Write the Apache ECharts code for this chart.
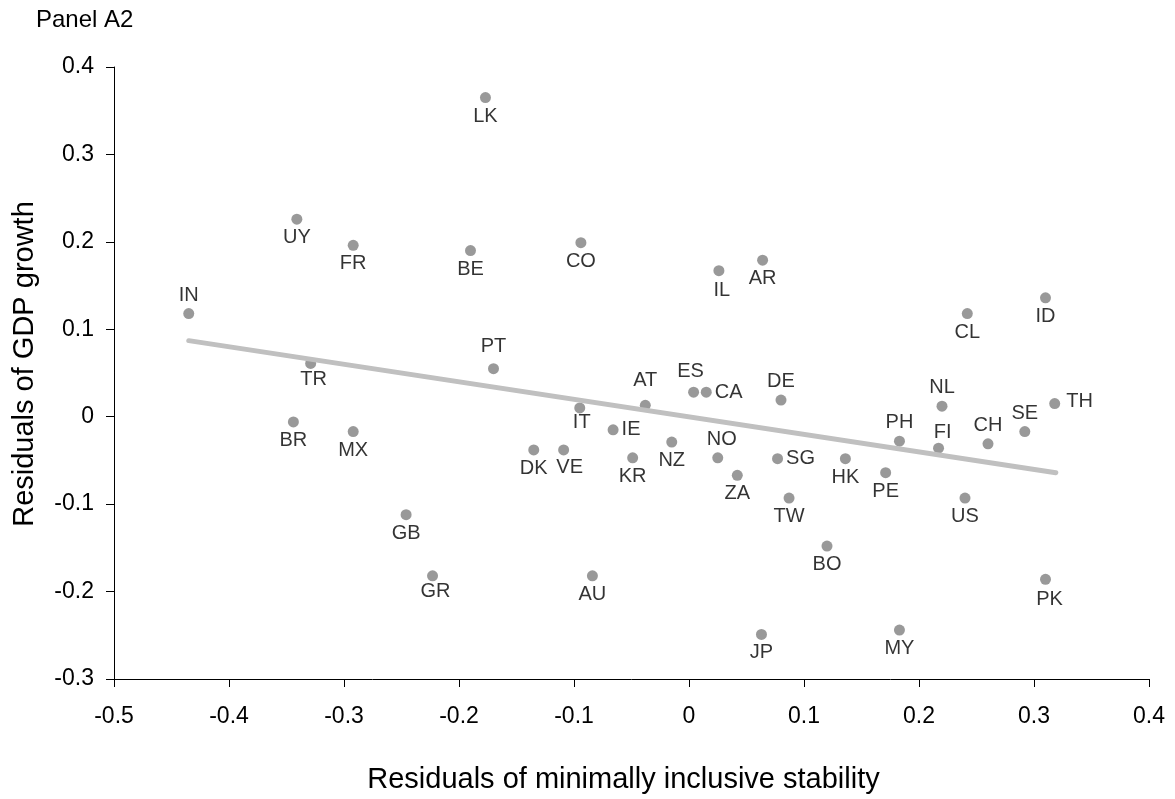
<!DOCTYPE html>
<html>
<head>
<meta charset="utf-8">
<title>Panel A2</title>
<script src="https://cdn.jsdelivr.net/npm/echarts@6/dist/echarts.min.js"></script>
<style>
  html, body { margin: 0; padding: 0; background: #ffffff; }
  #chart { width: 1175px; height: 799px; }
</style>
</head>
<body>
<div id="chart"></div>
<script>
// country codes with their residuals
const codes = ['IN', 'UY', 'FR', 'TR', 'BR', 'MX', 'GB', 'GR', 'BE', 'LK', 'PT', 'DK', 'VE',
  'CO', 'IT', 'AU', 'IE', 'KR', 'AT', 'NZ', 'ES', 'CA', 'IL', 'NO', 'ZA', 'AR', 'JP', 'SG',
  'DE', 'TW', 'BO', 'HK', 'PE', 'PH', 'MY', 'FI', 'NL', 'US', 'CL', 'CH', 'SE', 'ID', 'PK', 'TH']
const stability = [-0.435, -0.341, -0.292, -0.329, -0.344, -0.292, -0.246, -0.223, -0.190, -0.177, -0.170, -0.135, -0.109,
  -0.094, -0.095, -0.084, -0.066, -0.049, -0.038, -0.015, 0.004, 0.015, 0.026, 0.025, 0.042, 0.064, 0.063, 0.077,
  0.080, 0.087, 0.120, 0.136, 0.171, 0.183, 0.183, 0.217, 0.220, 0.240, 0.242, 0.260, 0.292, 0.310, 0.310, 0.318]
const growth = [0.118, 0.226, 0.196, 0.061, -0.006, -0.017, -0.112, -0.182, 0.190, 0.365, 0.055, -0.038, -0.038,
  0.199, 0.010, -0.182, -0.015, -0.047, 0.013, -0.029, 0.028, 0.028, 0.167, -0.047, -0.067, 0.179, -0.249, -0.048,
  0.019, -0.093, -0.148, -0.048, -0.064, -0.028, -0.244, -0.036, 0.012, -0.093, 0.118, -0.031, -0.017, 0.136, -0.186, 0.015]

// fitted line end points
const trendX = [-0.435, 0.319]
const trendY = [0.087, -0.064]

const xTicks = [-0.5, 0.4, 0.1]
const yTicks = [-0.3, 0.4, 0.1]

// where each label sits round its dot (default is below)
const labelPlace = {
  IN: ['top'], PT: ['top', 0, -4], AT: ['top', 0, -6], ES: ['top', -3, -2], DE: ['top'],
  NL: ['top'], PH: ['top'], FI: ['top', 4, 3], CH: ['top'], SE: ['top'], NO: ['top', 4, 0],
  CA: ['right'], IE: ['right'], SG: ['right'], TH: ['right', 3, -2],
  IT: ['bottom', 2, -4], GR: ['bottom', 3, -3], TR: ['bottom', 3, -2], VE: ['bottom', 6, -1],
  PK: ['bottom', 4, 2], IL: ['bottom', 3, 1]
}

const fontFam = "'Liberation Sans', Arial, sans-serif"

let points = []
for (let i = 0; i < codes.length; i++) {
  let place = labelPlace[codes[i]] || ['bottom']
  points.push({
    name: codes[i],
    value: [stability[i], growth[i]],
    label: {
      position: place[0],
      offset: [place[1] || 0, place[2] || 0]
    }
  })
}

let chart = echarts.init(document.getElementById('chart'))
chart.setOption({
  animation: false,
  backgroundColor: '#ffffff',
  textStyle: { fontFamily: fontFam },
  title: {
    text: 'Panel A2',
    left: 36,
    top: 8,
    padding: 0,
    textStyle: { fontSize: 24, fontWeight: 'normal', color: '#000', fontFamily: fontFam }
  },
  grid: { left: 114, right: 26, top: 67, bottom: 119 },
  xAxis: {
    type: 'value',
    min: xTicks[0],
    max: xTicks[1],
    interval: xTicks[2],
    name: 'Residuals of minimally inclusive stability',
    nameLocation: 'middle',
    nameGap: 86,
    nameTextStyle: { fontSize: 29, color: '#000', fontFamily: fontFam, padding: [0, 16, 0, 0] },
    axisLine: { show: true, onZero: false, lineStyle: { color: '#000', width: 1 } },
    axisTick: { show: true, length: 8, lineStyle: { color: '#000' } },
    axisLabel: {
      margin: 26, fontSize: 23, color: '#000', fontFamily: fontFam,
      formatter: v => String(Math.round(v * 10) / 10)
    },
    splitLine: { show: false }
  },
  yAxis: {
    type: 'value',
    min: yTicks[0],
    max: yTicks[1],
    interval: yTicks[2],
    axisLine: { show: true, onZero: false, lineStyle: { color: '#000', width: 1 } },
    axisTick: { show: true, length: 8, lineStyle: { color: '#000' } },
    axisLabel: {
      margin: 20, fontSize: 23, color: '#000', fontFamily: fontFam,
      formatter: v => String(Math.round(v * 10) / 10)
    },
    splitLine: { show: false }
  },
  graphic: [{
    type: 'text',
    x: 25,
    y: 364,
    rotation: Math.PI / 2,
    style: {
      text: 'Residuals of GDP growth',
      fontSize: 29,
      fontFamily: fontFam,
      fill: '#000',
      textAlign: 'center',
      textVerticalAlign: 'middle'
    }
  }],
  series: [
    {
      type: 'scatter',
      symbol: 'circle',
      symbolSize: 11,
      itemStyle: { color: '#808080' },
      label: {
        show: true,
        formatter: p => p.name,
        fontSize: 20,
        color: '#000',
        distance: 3,
        fontFamily: fontFam
      },
      data: points,
      z: 2
    },
    {
      type: 'line',
      symbol: 'none',
      lineStyle: { color: '#c0c0c0', width: 5, cap: 'round' },
      data: [[trendX[0], trendY[0]], [trendX[1], trendY[1]]],
      z: 3
    }
  ]
})
</script>
</body>
</html>
